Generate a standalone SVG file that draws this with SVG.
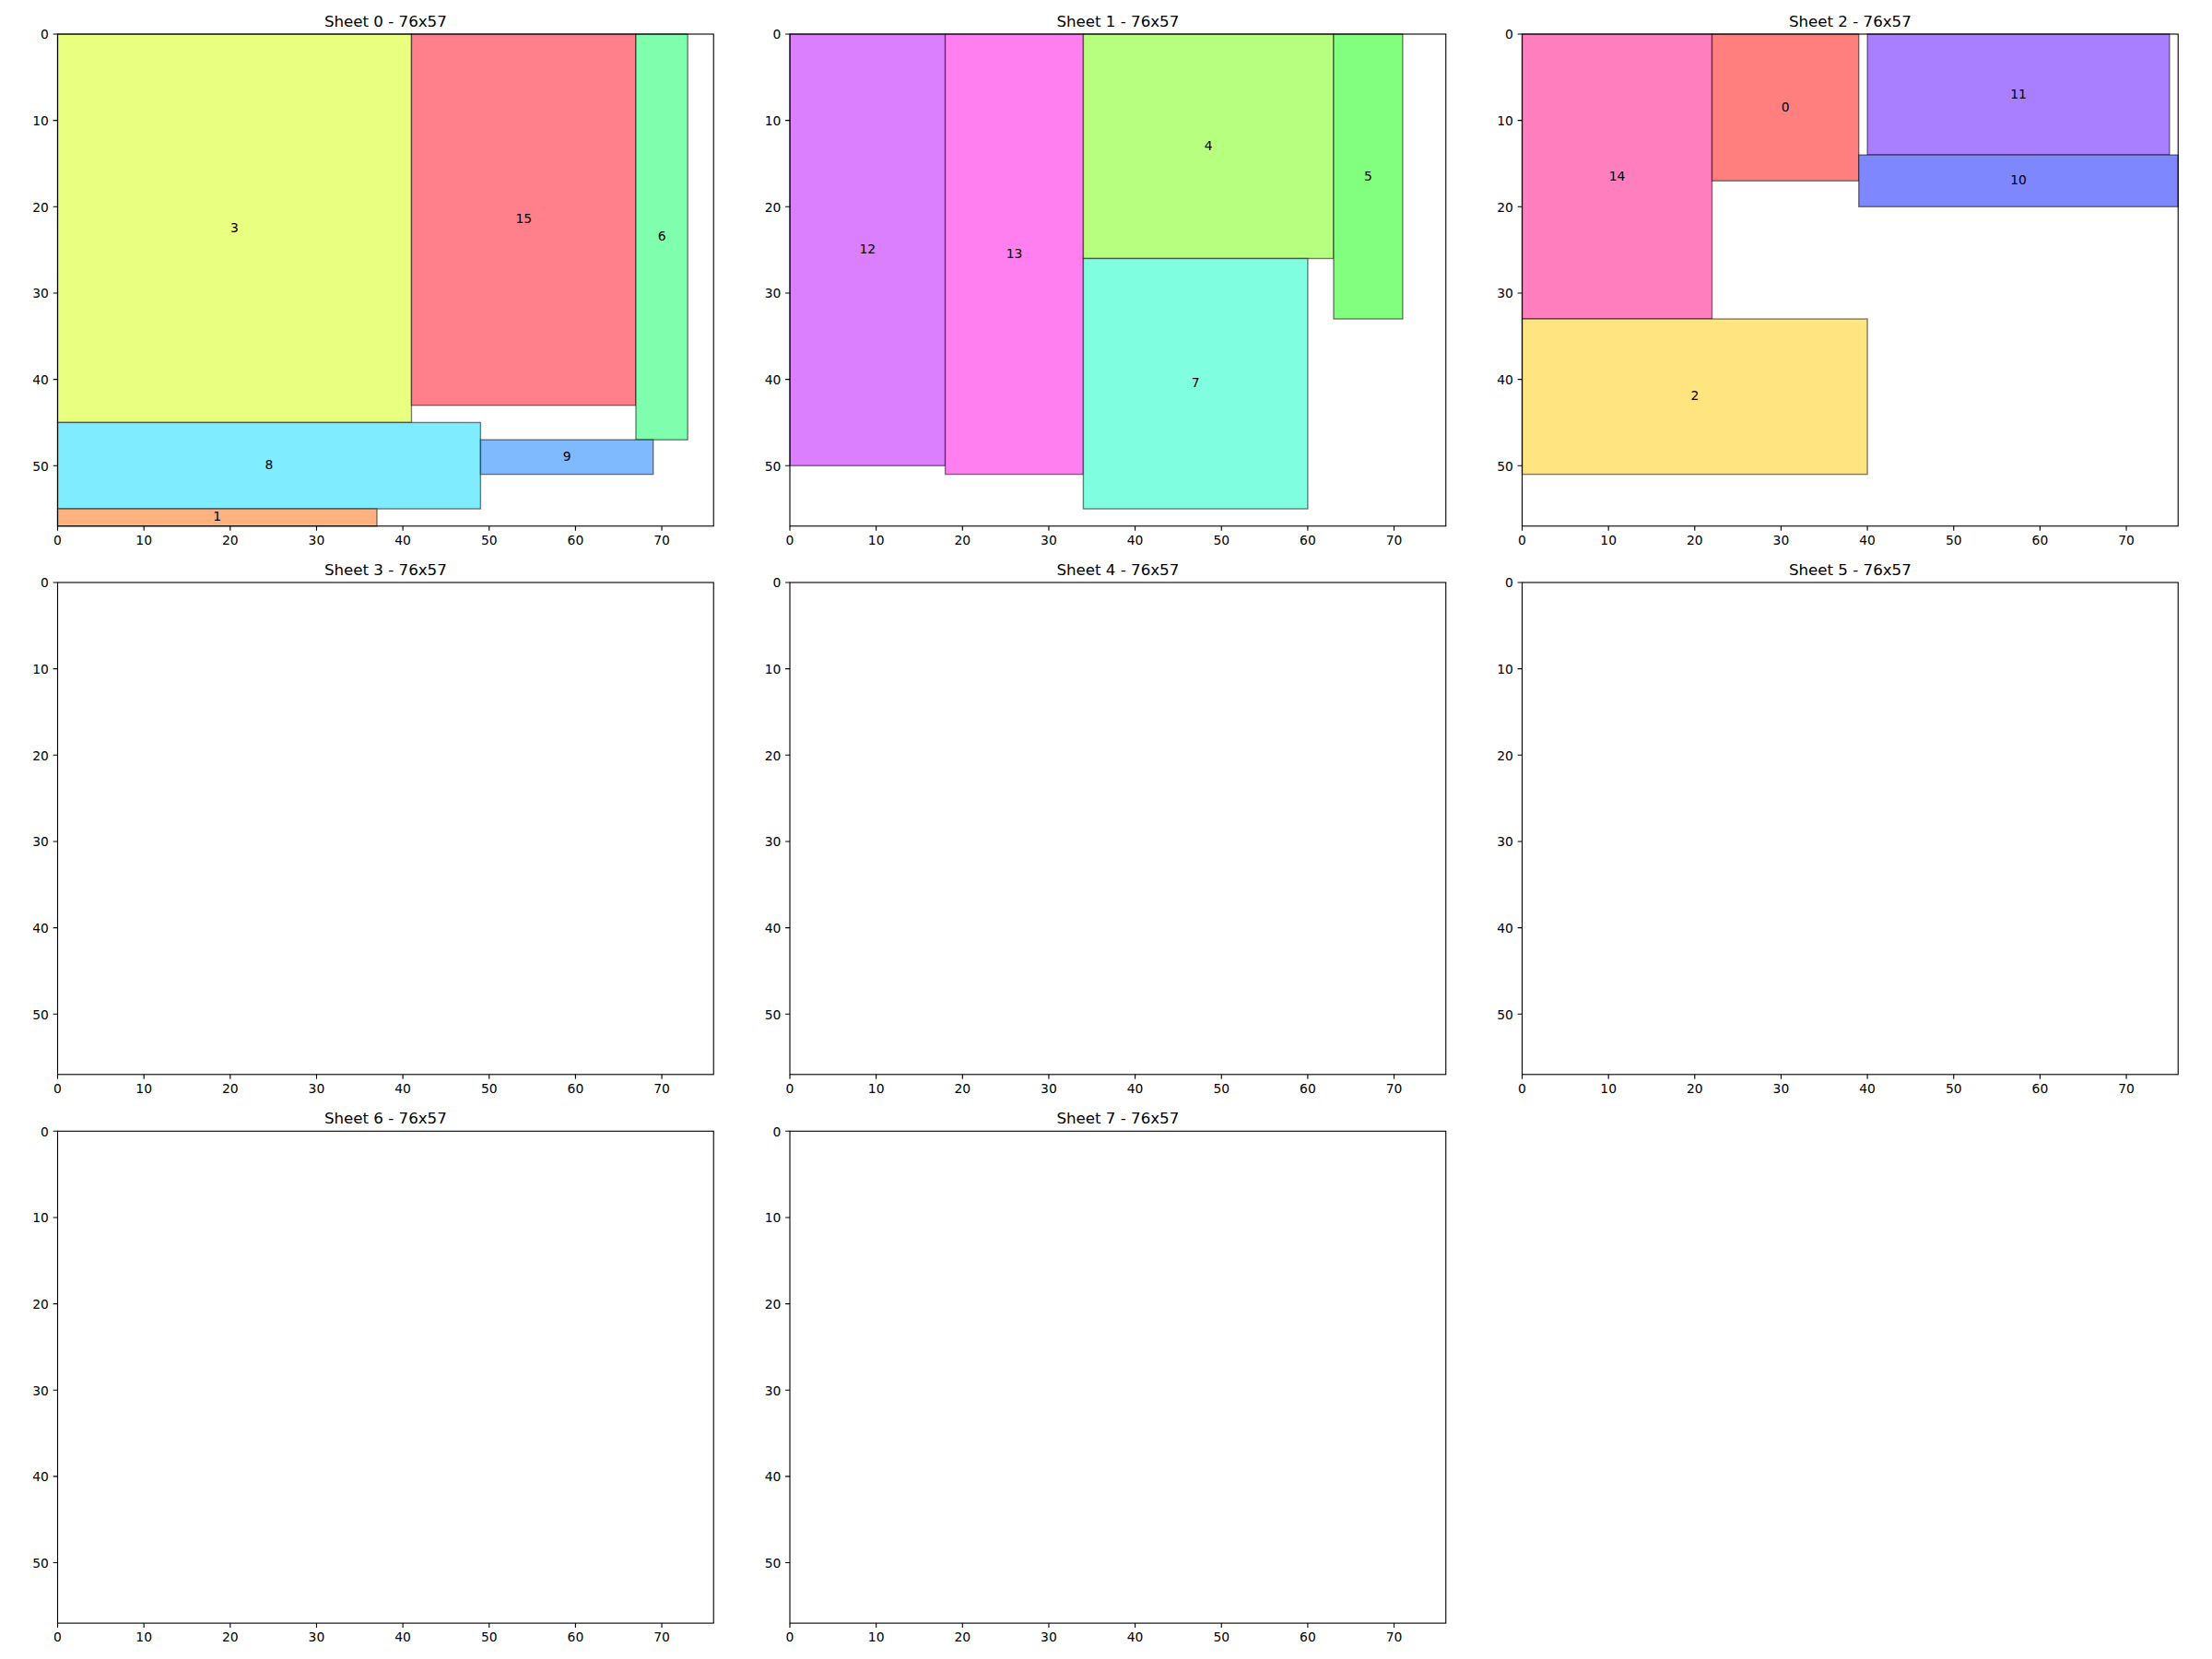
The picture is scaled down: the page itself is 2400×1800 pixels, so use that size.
<svg xmlns="http://www.w3.org/2000/svg" width="2400" height="1800" viewBox="0 0 2400 1800">
<style>
text{font-family:'DejaVu Sans','Liberation Sans',sans-serif;fill:#000}
.sp{fill:none;stroke:#000;stroke-width:1.11}
.tk{fill:none;stroke:#000;stroke-width:1.11}
.tl{font-size:13.89px}
.xl{text-anchor:middle}
.yl{text-anchor:end}
.ti{font-size:16.67px;text-anchor:middle}
.pc{stroke:#000;stroke-opacity:0.5;stroke-width:1.39}
.lb{font-size:13.89px;text-anchor:middle}
</style>
<rect width="2400" height="1800" fill="#fff"/>

<!-- Sheet 0 -->
<g id="sheet0" transform="translate(62.5,37)">
  <g id="s0-p3"><rect class="pc" x="0" y="0" width="383.97" height="421.43" fill="#e8ff7f"/><text class="lb" x="191.98" y="214.7">3</text></g>
  <g id="s0-p15"><rect class="pc" x="383.97" y="0" width="243.49" height="402.7" fill="#ff7f8b"/><text class="lb" x="505.71" y="205.35">15</text></g>
  <g id="s0-p6"><rect class="pc" x="627.46" y="0" width="56.19" height="440.16" fill="#7fffae"/><text class="lb" x="655.55" y="224.08">6</text></g>
  <g id="s0-p8"><rect class="pc" x="0" y="421.43" width="458.89" height="93.65" fill="#7fecff"/><text class="lb" x="229.44" y="472.25">8</text></g>
  <g id="s0-p9"><rect class="pc" x="458.89" y="440.16" width="187.3" height="37.46" fill="#7fbaff"/><text class="lb" x="552.54" y="462.89">9</text></g>
  <g id="s0-p1"><rect class="pc" x="0" y="515.08" width="346.51" height="18.73" fill="#ffb27f"/><text class="lb" x="173.25" y="528.44">1</text></g>
  <rect class="sp" x="0" y="0" width="711.74" height="533.8"/>
  <path class="tk" d="M0 533.8v4.86M93.65 533.8v4.86M187.3 533.8v4.86M280.95 533.8v4.86M374.6 533.8v4.86M468.25 533.8v4.86M561.9 533.8v4.86M655.55 533.8v4.86M0 0h-4.86M0 93.65h-4.86M0 187.3h-4.86M0 280.95h-4.86M0 374.6h-4.86M0 468.25h-4.86"/>
  <g class="tl xl"><text x="0" y="554.08">0</text><text x="93.65" y="554.08">10</text><text x="187.3" y="554.08">20</text><text x="280.95" y="554.08">30</text><text x="374.6" y="554.08">40</text><text x="468.25" y="554.08">50</text><text x="561.9" y="554.08">60</text><text x="655.55" y="554.08">70</text></g>
  <g class="tl yl"><text x="-9.72" y="5.28">0</text><text x="-9.72" y="98.93">10</text><text x="-9.72" y="192.58">20</text><text x="-9.72" y="286.23">30</text><text x="-9.72" y="379.88">40</text><text x="-9.72" y="473.53">50</text></g>
  <text class="ti" x="355.87" y="-8.33">Sheet 0 - 76x57</text>
</g>

<!-- Sheet 1 -->
<g id="sheet1" transform="translate(857,37)">
  <g id="s1-p12"><rect class="pc" x="0" y="0" width="168.57" height="468.25" fill="#dc7fff"/><text class="lb" x="84.29" y="238.13">12</text></g>
  <g id="s1-p13"><rect class="pc" x="168.57" y="0" width="149.84" height="477.62" fill="#ff7ff0"/><text class="lb" x="243.49" y="242.81">13</text></g>
  <g id="s1-p4"><rect class="pc" x="318.41" y="0" width="271.59" height="243.49" fill="#b6ff7f"/><text class="lb" x="454.2" y="125.75">4</text></g>
  <g id="s1-p5"><rect class="pc" x="590" y="0" width="74.92" height="309.05" fill="#83ff7f"/><text class="lb" x="627.46" y="158.52">5</text></g>
  <g id="s1-p7"><rect class="pc" x="318.41" y="243.49" width="243.49" height="271.59" fill="#7fffe0"/><text class="lb" x="440.16" y="383.28">7</text></g>
  <rect class="sp" x="0" y="0" width="711.74" height="533.8"/>
  <path class="tk" d="M0 533.8v4.86M93.65 533.8v4.86M187.3 533.8v4.86M280.95 533.8v4.86M374.6 533.8v4.86M468.25 533.8v4.86M561.9 533.8v4.86M655.55 533.8v4.86M0 0h-4.86M0 93.65h-4.86M0 187.3h-4.86M0 280.95h-4.86M0 374.6h-4.86M0 468.25h-4.86"/>
  <g class="tl xl"><text x="0" y="554.08">0</text><text x="93.65" y="554.08">10</text><text x="187.3" y="554.08">20</text><text x="280.95" y="554.08">30</text><text x="374.6" y="554.08">40</text><text x="468.25" y="554.08">50</text><text x="561.9" y="554.08">60</text><text x="655.55" y="554.08">70</text></g>
  <g class="tl yl"><text x="-9.72" y="5.28">0</text><text x="-9.72" y="98.93">10</text><text x="-9.72" y="192.58">20</text><text x="-9.72" y="286.23">30</text><text x="-9.72" y="379.88">40</text><text x="-9.72" y="473.53">50</text></g>
  <text class="ti" x="355.87" y="-8.33">Sheet 1 - 76x57</text>
</g>

<!-- Sheet 2 -->
<g id="sheet2" transform="translate(1651.5,37)">
  <g id="s2-p14"><rect class="pc" x="0" y="0" width="206.03" height="309.05" fill="#ff7fbe"/><text class="lb" x="103.02" y="158.52">14</text></g>
  <g id="s2-p0"><rect class="pc" x="206.03" y="0" width="159.21" height="159.21" fill="#ff7f7f"/><text class="lb" x="285.63" y="83.6">0</text></g>
  <g id="s2-p11"><rect class="pc" x="374.6" y="0" width="327.78" height="131.11" fill="#aa7fff"/><text class="lb" x="538.49" y="69.56">11</text></g>
  <g id="s2-p10"><rect class="pc" x="365.24" y="131.11" width="346.51" height="56.19" fill="#7f87ff"/><text class="lb" x="538.49" y="163.21">10</text></g>
  <g id="s2-p2"><rect class="pc" x="0" y="309.05" width="374.6" height="168.57" fill="#ffe47f"/><text class="lb" x="187.3" y="397.33">2</text></g>
  <rect class="sp" x="0" y="0" width="711.74" height="533.8"/>
  <path class="tk" d="M0 533.8v4.86M93.65 533.8v4.86M187.3 533.8v4.86M280.95 533.8v4.86M374.6 533.8v4.86M468.25 533.8v4.86M561.9 533.8v4.86M655.55 533.8v4.86M0 0h-4.86M0 93.65h-4.86M0 187.3h-4.86M0 280.95h-4.86M0 374.6h-4.86M0 468.25h-4.86"/>
  <g class="tl xl"><text x="0" y="554.08">0</text><text x="93.65" y="554.08">10</text><text x="187.3" y="554.08">20</text><text x="280.95" y="554.08">30</text><text x="374.6" y="554.08">40</text><text x="468.25" y="554.08">50</text><text x="561.9" y="554.08">60</text><text x="655.55" y="554.08">70</text></g>
  <g class="tl yl"><text x="-9.72" y="5.28">0</text><text x="-9.72" y="98.93">10</text><text x="-9.72" y="192.58">20</text><text x="-9.72" y="286.23">30</text><text x="-9.72" y="379.88">40</text><text x="-9.72" y="473.53">50</text></g>
  <text class="ti" x="355.87" y="-8.33">Sheet 2 - 76x57</text>
</g>

<!-- Sheet 3 -->
<g id="sheet3" transform="translate(62.5,632)">
  <rect class="sp" x="0" y="0" width="711.74" height="533.8"/>
  <path class="tk" d="M0 533.8v4.86M93.65 533.8v4.86M187.3 533.8v4.86M280.95 533.8v4.86M374.6 533.8v4.86M468.25 533.8v4.86M561.9 533.8v4.86M655.55 533.8v4.86M0 0h-4.86M0 93.65h-4.86M0 187.3h-4.86M0 280.95h-4.86M0 374.6h-4.86M0 468.25h-4.86"/>
  <g class="tl xl"><text x="0" y="554.08">0</text><text x="93.65" y="554.08">10</text><text x="187.3" y="554.08">20</text><text x="280.95" y="554.08">30</text><text x="374.6" y="554.08">40</text><text x="468.25" y="554.08">50</text><text x="561.9" y="554.08">60</text><text x="655.55" y="554.08">70</text></g>
  <g class="tl yl"><text x="-9.72" y="5.28">0</text><text x="-9.72" y="98.93">10</text><text x="-9.72" y="192.58">20</text><text x="-9.72" y="286.23">30</text><text x="-9.72" y="379.88">40</text><text x="-9.72" y="473.53">50</text></g>
  <text class="ti" x="355.87" y="-8.33">Sheet 3 - 76x57</text>
</g>

<!-- Sheet 4 -->
<g id="sheet4" transform="translate(857,632)">
  <rect class="sp" x="0" y="0" width="711.74" height="533.8"/>
  <path class="tk" d="M0 533.8v4.86M93.65 533.8v4.86M187.3 533.8v4.86M280.95 533.8v4.86M374.6 533.8v4.86M468.25 533.8v4.86M561.9 533.8v4.86M655.55 533.8v4.86M0 0h-4.86M0 93.65h-4.86M0 187.3h-4.86M0 280.95h-4.86M0 374.6h-4.86M0 468.25h-4.86"/>
  <g class="tl xl"><text x="0" y="554.08">0</text><text x="93.65" y="554.08">10</text><text x="187.3" y="554.08">20</text><text x="280.95" y="554.08">30</text><text x="374.6" y="554.08">40</text><text x="468.25" y="554.08">50</text><text x="561.9" y="554.08">60</text><text x="655.55" y="554.08">70</text></g>
  <g class="tl yl"><text x="-9.72" y="5.28">0</text><text x="-9.72" y="98.93">10</text><text x="-9.72" y="192.58">20</text><text x="-9.72" y="286.23">30</text><text x="-9.72" y="379.88">40</text><text x="-9.72" y="473.53">50</text></g>
  <text class="ti" x="355.87" y="-8.33">Sheet 4 - 76x57</text>
</g>

<!-- Sheet 5 -->
<g id="sheet5" transform="translate(1651.5,632)">
  <rect class="sp" x="0" y="0" width="711.74" height="533.8"/>
  <path class="tk" d="M0 533.8v4.86M93.65 533.8v4.86M187.3 533.8v4.86M280.95 533.8v4.86M374.6 533.8v4.86M468.25 533.8v4.86M561.9 533.8v4.86M655.55 533.8v4.86M0 0h-4.86M0 93.65h-4.86M0 187.3h-4.86M0 280.95h-4.86M0 374.6h-4.86M0 468.25h-4.86"/>
  <g class="tl xl"><text x="0" y="554.08">0</text><text x="93.65" y="554.08">10</text><text x="187.3" y="554.08">20</text><text x="280.95" y="554.08">30</text><text x="374.6" y="554.08">40</text><text x="468.25" y="554.08">50</text><text x="561.9" y="554.08">60</text><text x="655.55" y="554.08">70</text></g>
  <g class="tl yl"><text x="-9.72" y="5.28">0</text><text x="-9.72" y="98.93">10</text><text x="-9.72" y="192.58">20</text><text x="-9.72" y="286.23">30</text><text x="-9.72" y="379.88">40</text><text x="-9.72" y="473.53">50</text></g>
  <text class="ti" x="355.87" y="-8.33">Sheet 5 - 76x57</text>
</g>

<!-- Sheet 6 -->
<g id="sheet6" transform="translate(62.5,1227.3)">
  <rect class="sp" x="0" y="0" width="711.74" height="533.8"/>
  <path class="tk" d="M0 533.8v4.86M93.65 533.8v4.86M187.3 533.8v4.86M280.95 533.8v4.86M374.6 533.8v4.86M468.25 533.8v4.86M561.9 533.8v4.86M655.55 533.8v4.86M0 0h-4.86M0 93.65h-4.86M0 187.3h-4.86M0 280.95h-4.86M0 374.6h-4.86M0 468.25h-4.86"/>
  <g class="tl xl"><text x="0" y="554.08">0</text><text x="93.65" y="554.08">10</text><text x="187.3" y="554.08">20</text><text x="280.95" y="554.08">30</text><text x="374.6" y="554.08">40</text><text x="468.25" y="554.08">50</text><text x="561.9" y="554.08">60</text><text x="655.55" y="554.08">70</text></g>
  <g class="tl yl"><text x="-9.72" y="5.28">0</text><text x="-9.72" y="98.93">10</text><text x="-9.72" y="192.58">20</text><text x="-9.72" y="286.23">30</text><text x="-9.72" y="379.88">40</text><text x="-9.72" y="473.53">50</text></g>
  <text class="ti" x="355.87" y="-8.33">Sheet 6 - 76x57</text>
</g>

<!-- Sheet 7 -->
<g id="sheet7" transform="translate(857,1227.3)">
  <rect class="sp" x="0" y="0" width="711.74" height="533.8"/>
  <path class="tk" d="M0 533.8v4.86M93.65 533.8v4.86M187.3 533.8v4.86M280.95 533.8v4.86M374.6 533.8v4.86M468.25 533.8v4.86M561.9 533.8v4.86M655.55 533.8v4.86M0 0h-4.86M0 93.65h-4.86M0 187.3h-4.86M0 280.95h-4.86M0 374.6h-4.86M0 468.25h-4.86"/>
  <g class="tl xl"><text x="0" y="554.08">0</text><text x="93.65" y="554.08">10</text><text x="187.3" y="554.08">20</text><text x="280.95" y="554.08">30</text><text x="374.6" y="554.08">40</text><text x="468.25" y="554.08">50</text><text x="561.9" y="554.08">60</text><text x="655.55" y="554.08">70</text></g>
  <g class="tl yl"><text x="-9.72" y="5.28">0</text><text x="-9.72" y="98.93">10</text><text x="-9.72" y="192.58">20</text><text x="-9.72" y="286.23">30</text><text x="-9.72" y="379.88">40</text><text x="-9.72" y="473.53">50</text></g>
  <text class="ti" x="355.87" y="-8.33">Sheet 7 - 76x57</text>
</g>
</svg>
